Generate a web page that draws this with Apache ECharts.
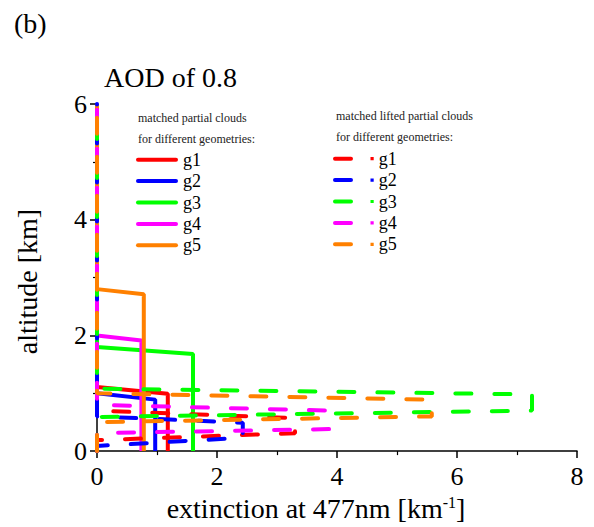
<!DOCTYPE html>
<html>
<head>
<meta charset="utf-8">
<script src="https://cdn.jsdelivr.net/npm/echarts@6/dist/echarts.min.js"></script>
<style>html,body{margin:0;padding:0;background:#fff}#c{width:594px;height:527px}</style>
</head>
<body>
<div id="c"></div>
<script>
// ---- data ----
const geometries = ['g1', 'g2', 'g3', 'g4', 'g5'];
const xTicks = [0, 2, 4, 6, 8];
const yTicks = [0, 2, 4, 6];
// matched partial clouds (solid): cloud reaches the ground
const solidTopLeft  = [1.11, 1.00, 1.80, 2.00, 2.80]; // altitude of cloud top at x=0 [km]
const solidTopRight = [0.99, 0.89, 1.68, 1.91, 2.71]; // altitude of cloud top at max extinction [km]
const solidExt      = [1.18, 0.97, 1.60, 0.74, 0.78]; // extinction [1/km]
// matched lifted partial clouds (dashed)
const liftTopLeft   = [0.70, 0.60, 1.08, 0.80, 1.00];
const liftTopRight  = [0.57, 0.49, 0.98, 0.70, 0.89];
const liftBaseLeft  = [0.19, 0.09, 0.59, 0.31, 0.50];
const liftBaseRight = [0.31, 0.23, 0.70, 0.38, 0.60];
const liftExt       = [3.30, 2.43, 7.25, 3.87, 5.58];
const topAltitude = 6;

// ---- styles ----
const colors = ['#ff0000', '#0000ff', '#00ff00', '#ff00ff', '#ff8000'];
const FONT = '"Liberation Serif", "Times New Roman", serif';
const solidIcon = 'path://M2,0h38a2,2 0 0 1 0,4h-38a2,2 0 0 1 0,-4z';
const liftIcon = 'path://M2,0h16a2,2 0 0 1 0,4h-16a2,2 0 0 1 0,-4z M37.5,0.4h3.2v3.2h-3.2z';

const series = [];
geometries.forEach((g, i) => {
  series.push({
    name: g,
    type: 'line',
    symbol: 'none',
    clip: false,
    z: 2,
    lineStyle: { color: colors[i], width: 4, type: 'solid' },
    itemStyle: { color: colors[i] },
    data: [[0, topAltitude], [0, solidTopLeft[i]], [solidExt[i], solidTopRight[i]], [solidExt[i], 0]]
  });
});
geometries.forEach((g, i) => {
  series.push({
    name: g + ' (lifted)',
    type: 'line',
    symbol: 'none',
    clip: false,
    z: 3,
    lineStyle: { color: colors[i], width: 4, type: [16, 23], cap: 'round' },
    itemStyle: { color: colors[i] },
    data: [[0, 0], [0, liftBaseLeft[i]], [liftExt[i], liftBaseRight[i]], [liftExt[i], liftTopRight[i]], [0, liftTopLeft[i]], [0, topAltitude]]
  });
});

const legendCommon = {
  orient: 'vertical',
  itemHeight: 4,
  itemGap: 3.4,
  selectedMode: false,
  formatter: n => n.replace(' (lifted)', ''),
  textStyle: { fontFamily: FONT, fontSize: 18, color: '#000', lineHeight: 14 }
};

const chart = echarts.init(document.getElementById('c'), null, { renderer: 'svg' });
chart.setOption({
  animation: false,
  backgroundColor: '#fff',
  title: [
    { text: '(b)', left: 9, top: 4, textStyle: { fontFamily: FONT, fontSize: 28, fontWeight: 'normal', color: '#000' } },
    { text: 'AOD of 0.8', left: 99, top: 58, textStyle: { fontFamily: FONT, fontSize: 28, fontWeight: 'normal', color: '#000' } },
    { text: 'matched partial clouds\nfor different geometries:', left: 133, top: 102, textStyle: { fontFamily: FONT, fontSize: 12, lineHeight: 21, fontWeight: 'normal', color: '#222' } },
    { text: 'matched lifted partial clouds\nfor different geometries:', left: 331, top: 100, textStyle: { fontFamily: FONT, fontSize: 12, lineHeight: 21, fontWeight: 'normal', color: '#222' } }
  ],
  legend: [
    Object.assign({}, legendCommon, { left: 131, top: 145.7, itemWidth: 42, icon: solidIcon, data: geometries.slice() }),
    Object.assign({}, legendCommon, { left: 328, top: 144.7, itemWidth: 41, icon: liftIcon, data: geometries.map(g => g + ' (lifted)') })
  ],
  grid: { left: 97, top: 104, right: 17, bottom: 72, containLabel: false },
  xAxis: {
    type: 'value',
    min: xTicks[0], max: xTicks[xTicks.length - 1], interval: 2,
    name: 'extinction at 477nm [km{sup|-1}]',
    nameLocation: 'middle',
    nameGap: 39,
    nameTextStyle: {
      fontFamily: FONT, fontSize: 28, color: '#000', padding: [0, 42, 0, 0],
      rich: { sup: { fontFamily: FONT, fontSize: 16, verticalAlign: 'top', padding: [0, 0, 12, 0], color: '#000' } }
    },
    axisLine: { show: true, lineStyle: { color: '#000', width: 1.5 } },
    axisTick: { show: true, inside: false, length: 7, lineStyle: { color: '#000', width: 1.5 } },
    minorTick: { show: true, splitNumber: 2, length: 4, lineStyle: { color: '#000', width: 1.2 } },
    splitLine: { show: false },
    axisLabel: { fontFamily: FONT, fontSize: 26, color: '#000', margin: 12 }
  },
  yAxis: {
    type: 'value',
    min: yTicks[0], max: yTicks[yTicks.length - 1], interval: 2,
    name: 'altitude [km]',
    nameLocation: 'middle',
    nameGap: 56,
    nameRotate: 90,
    nameTextStyle: { fontFamily: FONT, fontSize: 28, color: '#000', padding: [0, 8, 0, 0] },
    axisLine: { show: true, lineStyle: { color: '#000', width: 1.5 } },
    axisTick: { show: true, inside: false, length: 7, lineStyle: { color: '#000', width: 1.5 } },
    minorTick: { show: true, splitNumber: 2, length: 4, lineStyle: { color: '#000', width: 1.2 } },
    splitLine: { show: false },
    axisLabel: { fontFamily: FONT, fontSize: 26, color: '#000', margin: 10 }
  },
  series: series
});
</script>
</body>
</html>
